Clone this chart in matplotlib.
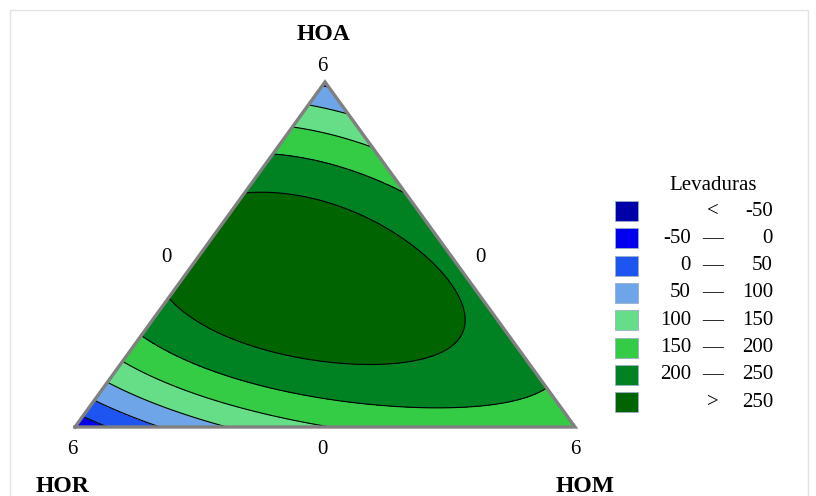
import numpy as np
import matplotlib.pyplot as plt
import matplotlib.tri as mtri
from matplotlib.patches import Rectangle

# ----------------------------------------------------------------------
# data: response values read along the contour lines of the picture
# each point is given as (HOA fraction, HOM fraction); HOR = 1 - HOA - HOM
# ----------------------------------------------------------------------
pt_level = [-30, 45, 178,
            0, 0,
            50, 50, 50, 50,
            100, 100, 100, 100, 100, 100,
            150, 150, 150, 150, 150, 150,
            200, 200, 200, 200,
            200, 200, 200, 200, 200, 200, 200,
            250, 250, 250, 250, 250, 250, 250, 250, 250, 250, 250, 250, 250,
            282]
pt_hoa = [0.0, 1.0, 0.0,
          0.041, 0.0,
          0.084, 0.0, 0.975, 0.975,
          0.130, 0.058, 0.0, 0.922, 0.913, 0.887,
          0.188, 0.087, 0.0, 0.864, 0.846, 0.794,
          0.797, 0.757, 0.722, 0.672,
          0.258, 0.157, 0.072, 0.049, 0.058, 0.099, 0.130,
          0.704, 0.658, 0.591, 0.513, 0.455, 0.388, 0.319, 0.232, 0.186, 0.171,
          0.180, 0.232, 0.348,
          0.45]
pt_hom = [0.0, 0.0, 1.0,
          0.0, 0.073,
          0.0, 0.173, 0.0, 0.025,
          0.0, 0.161, 0.287, 0.0, 0.033, 0.113,
          0.0, 0.247, 0.461, 0.0, 0.067, 0.206,
          0.0, 0.132, 0.209, 0.328,
          0.0, 0.246, 0.474, 0.599, 0.727, 0.815, 0.870,
          0.0, 0.161, 0.30, 0.433, 0.516, 0.590, 0.637, 0.654, 0.597, 0.484,
          0.42, 0.208, 0.0,
          0.30]
# vertex estimates and a few well-read points count a bit more in the fit
pt_weight = [3, 3, 2,
             2, 2,
             1, 1, 1, 1,
             1, 1, 1, 1, 1, 1,
             1, 1, 1, 1, 1, 1,
             1, 1, 1, 1,
             1, 1, 1, 1, 1, 3, 3,
             1, 1, 1, 1, 2, 2, 2, 2, 2, 1, 1, 1, 1,
             1]

levels = [-1e6, -50, 0, 50, 100, 150, 200, 250, 1e6]
legend_left = ["", "-50", "0", "50", "100", "150", "200", ""]
legend_mid = ["<", "\u2014", "\u2014", "\u2014", "\u2014", "\u2014", "\u2014", ">"]
legend_right = ["-50", "0", "50", "100", "150", "200", "250", "250"]
colors = ["#0000a8", "#0000ee", "#1e55f0", "#6ea5e8",
          "#66de88", "#33cc44", "#008222", "#006400"]


# ----------------------------------------------------------------------
# full cubic Scheffe mixture model fitted to the read-off points
# ----------------------------------------------------------------------
def design(a, m):
    r = 1 - a - m
    return np.column_stack([r, m, a, r * m, r * a, m * a,
                            r * m * (r - m), r * a * (r - a),
                            m * a * (m - a), r * m * a])


A = np.array(pt_hoa)
M = np.array(pt_hom)
w = np.array(pt_weight, float)
coef, *_ = np.linalg.lstsq(design(A, M) * w[:, None],
                           np.array(pt_level, float) * w, rcond=None)

n = 160
ga, gm = [], []
for i in range(n + 1):
    for j in range(n + 1 - i):
        ga.append(i / n)
        gm.append(j / n)
ga = np.array(ga)
gm = np.array(gm)
z = design(ga, gm) @ coef
tri = mtri.Triangulation(gm + ga / 2, ga)

# ----------------------------------------------------------------------
# figure
# ----------------------------------------------------------------------
plt.rcParams["font.family"] = ["Liberation Serif", "DejaVu Serif"]
W, H = 816, 496
fig = plt.figure(figsize=(W / 100, H / 100), dpi=100)
fig.patch.set_facecolor("white")

# light frame round the whole chart
bg = fig.add_axes([0, 0, 1, 1])
bg.set_xlim(0, W)
bg.set_ylim(H, 0)
bg.axis("off")
bg.add_patch(Rectangle((10, 10), 798, 500, fill=False,
                       edgecolor="#e4e4e4", linewidth=1))

ax = fig.add_axes([75 / W, (H - 427) / H, 500 / W, 345 / H])
ax.tricontourf(tri, z, levels=levels, colors=colors)
ax.tricontour(tri, z, levels=levels[1:-1], colors="black", linewidths=0.8)
ax.plot([0, 0.5, 1, 0], [0, 1, 0, 0], color="#808080", linewidth=2.4,
        solid_joinstyle="miter", clip_on=False)
ax.set_xlim(0, 1)
ax.set_ylim(0, 1)
ax.axis("off")

# vertex and edge labels
tick_fs = 15
fig.text(322 / W, 1 - 67 / H, "6", ha="center", va="center", fontsize=tick_fs)
fig.text(166 / W, 1 - 258 / H, "0", ha="center", va="center", fontsize=tick_fs)
fig.text(480 / W, 1 - 258 / H, "0", ha="center", va="center", fontsize=tick_fs)
fig.text(72 / W, 1 - 450 / H, "6", ha="center", va="center", fontsize=tick_fs)
fig.text(322 / W, 1 - 450 / H, "0", ha="center", va="center", fontsize=tick_fs)
fig.text(575 / W, 1 - 450 / H, "6", ha="center", va="center", fontsize=tick_fs)

lab_fs = 17
fig.text(323 / W, 1 - 35 / H, "HOA", ha="center", va="center",
         fontsize=lab_fs, fontweight="bold")
fig.text(63 / W, 1 - 487 / H, "HOR", ha="center", va="center",
         fontsize=lab_fs, fontweight="bold")
fig.text(585 / W, 1 - 487 / H, "HOM", ha="center", va="center",
         fontsize=lab_fs, fontweight="bold")

# legend
leg_fs = 15
fig.text(713 / W, 1 - 186 / H, "Levaduras", ha="center", va="center",
         fontsize=leg_fs)
for k, c in enumerate(colors):
    yc = 211 + k * 27.3
    bg.add_patch(Rectangle((615, yc - 10), 23, 20, facecolor=c,
                           edgecolor="#9ab0c8", linewidth=0.6))
    fig.text(691 / W, 1 - yc / H, legend_left[k], ha="right", va="center",
             fontsize=leg_fs)
    fig.text(713 / W, 1 - yc / H, legend_mid[k], ha="center", va="center",
             fontsize=leg_fs)
    fig.text(773 / W, 1 - yc / H, legend_right[k], ha="right", va="center",
             fontsize=leg_fs)

fig.savefig("out.png", dpi=100, facecolor="white")
